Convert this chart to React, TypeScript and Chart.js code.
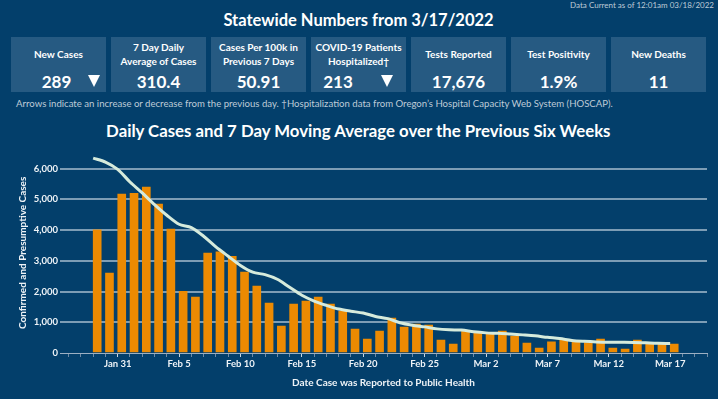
import React, { useEffect, useRef } from 'react';
import { Chart, registerables } from 'chart.js';

Chart.register(...registerables);

// ---------- data ----------
const DATES = [
  'Jan 29', 'Jan 30', 'Jan 31',
  'Feb 1', 'Feb 2', 'Feb 3', 'Feb 4', 'Feb 5', 'Feb 6', 'Feb 7', 'Feb 8', 'Feb 9', 'Feb 10',
  'Feb 11', 'Feb 12', 'Feb 13', 'Feb 14', 'Feb 15', 'Feb 16', 'Feb 17', 'Feb 18', 'Feb 19', 'Feb 20',
  'Feb 21', 'Feb 22', 'Feb 23', 'Feb 24', 'Feb 25', 'Feb 26', 'Feb 27', 'Feb 28',
  'Mar 1', 'Mar 2', 'Mar 3', 'Mar 4', 'Mar 5', 'Mar 6', 'Mar 7', 'Mar 8', 'Mar 9', 'Mar 10',
  'Mar 11', 'Mar 12', 'Mar 13', 'Mar 14', 'Mar 15', 'Mar 16', 'Mar 17',
];

const DAILY_CASES = [
  4010, 2600, 5170, 5200, 5400, 4850, 4030, 2010, 1820, 3250,
  3290, 3150, 2630, 2180, 1625, 880, 1590, 1690, 1820, 1590,
  1365, 780, 455, 715, 1140, 845, 940, 910, 420, 290,
  715, 650, 640, 715, 550, 325, 160, 360, 440, 390,
  340, 455, 160, 130, 420, 300, 290, 289,
];

const MOVING_AVG = [
  6345, 6215, 5978, 5567, 5209, 4830, 4483, 4191, 4083, 3801,
  3453, 3151, 2850, 2630, 2550, 2400, 2140, 1880, 1690, 1550,
  1430, 1360, 1300, 1190, 1120, 985, 905, 850, 785, 755,
  745, 690, 655, 640, 615, 590, 560, 510, 470, 410,
  380, 360, 350, 348, 345, 330, 315, 310,
];

const TICK_DATES = ['Jan 31', 'Feb 5', 'Feb 10', 'Feb 15', 'Feb 20', 'Feb 25', 'Mar 2', 'Mar 7', 'Mar 12', 'Mar 17'];
const Y_TICKS = [0, 1000, 2000, 3000, 4000, 5000, 6000];

const STAT_LABELS = [
  ['New Cases'],
  ['7 Day Daily', 'Average of Cases'],
  ['Cases Per 100k in', 'Previous 7 Days'],
  ['COVID-19 Patients', 'Hospitalized\u2020'],
  ['Tests Reported'],
  ['Test Positivity'],
  ['New Deaths'],
];
const STAT_VALUES = ['289', '310.4', '50.91', '213', '17,676', '1.9%', '11'];
const STAT_ARROWS = [true, false, false, true, false, false, false];

const HEADER_TITLE = 'Statewide Numbers from 3/17/2022';
const DATA_CURRENT = 'Data Current as of 12:01am 03/18/2022';
const FOOTNOTE = 'Arrows indicate an increase or decrease from the previous day. \u2020Hospitalization data from Oregon\u2019s Hospital Capacity Web System (HOSCAP).';
const CHART_TITLE = 'Daily Cases and 7 Day Moving Average over the Previous Six Weeks';
const Y_TITLE = 'Confirmed and Presumptive Cases';
const X_TITLE = 'Date Case was Reported to Public Health';

// ---------- style ----------
const FONT = 'Lato, "Noto Sans", sans-serif';
const BG = '#033f6b';
const BOX_BG = '#265a82';
const BAR_COLOR = '#ec8a02';
const LINE_COLOR = '#d6ebdc';
const TEXT = '#ffffff';
const TICK_TEXT = '#eef3f7';
const MUTED = '#bfcbd7';
const GRID = 'rgba(200,214,228,0.62)';
const AXIS = '#9db0c3';
const BAR_SHIFT = 0.33;

function Txt(props: { x: number; y: number; size: number; bold?: boolean; color?: string; children: React.ReactNode }) {
  const { x, y, size, bold, color, children } = props;
  return (
    <div
      style={{
        position: 'absolute',
        left: x,
        top: y,
        transform: 'translate(-50%,-50%)',
        fontSize: size,
        lineHeight: 1,
        fontWeight: bold ? 700 : 400,
        color: color || TEXT,
        whiteSpace: 'nowrap',
      }}
    >
      {children}
    </div>
  );
}

export default function App() {
  const canvasRef = useRef<HTMLCanvasElement | null>(null);

  useEffect(() => {
    document.body.style.margin = '0';
    const canvas = canvasRef.current;
    if (!canvas) return;
    const tickFont = { family: FONT, size: 9.5, weight: 'bold' as const };
    const titleFont = { family: FONT, size: 10, weight: 'bold' as const };

    const chart = new Chart(canvas, {
      type: 'line',
      data: {
        datasets: [
          {
            type: 'line',
            data: MOVING_AVG.map((v, i) => ({ x: i, y: v })),
            borderColor: LINE_COLOR,
            borderWidth: 3,
            pointRadius: 0,
            tension: 0.3,
            order: 0,
          } as any,
          {
            type: 'bar',
            data: DAILY_CASES.map((v, i) => ({ x: i + BAR_SHIFT, y: v })),
            backgroundColor: BAR_COLOR,
            barThickness: 8,
            order: 1,
          } as any,
        ],
      },
      options: {
        animation: false,
        responsive: false,
        maintainAspectRatio: false,
        layout: { padding: { top: 0, right: 11, bottom: 0, left: 0 } },
        plugins: {
          legend: { display: false },
          tooltip: { enabled: false },
          title: { display: false },
        },
        scales: {
          x: {
            type: 'linear',
            min: -2.7,
            max: 50,
            offset: false,
            grid: {
              offset: false,
              display: true,
              drawOnChartArea: false,
              drawTicks: true,
              tickLength: 4,
              tickColor: (c: any) => (c.tick && c.tick.label ? '#c9d5e0' : '#6f8aa5'),
            },
            border: { display: true, color: AXIS, width: 1 },
            afterBuildTicks: (s: any) => {
              const t = [];
              for (let v = Math.ceil(s.min); v <= Math.floor(s.max); v++) t.push({ value: v });
              s.ticks = t;
            },
            afterFit: (s: any) => {
              s.height = 46;
            },
            ticks: {
              autoSkip: false,
              maxRotation: 0,
              minRotation: 0,
              padding: 1,
              color: TICK_TEXT,
              font: tickFont,
              callback: (value: any) => {
                const i = Number(value);
                if (Number.isInteger(i) && i >= 0 && i < DATES.length && TICK_DATES.includes(DATES[i])) return DATES[i];
                return '';
              },
            },
            title: {
              display: true,
              text: X_TITLE,
              color: TICK_TEXT,
              font: titleFont,
              padding: { top: 0, bottom: 10 },
            },
          },
          y: {
            type: 'linear',
            position: 'left',
            min: 0,
            max: 6520,
            grid: {
              drawTicks: false,
              lineWidth: 2,
              color: (c: any) => (c.tick && c.tick.value === 0 ? 'rgba(0,0,0,0)' : GRID),
            },
            border: { display: false },
            afterBuildTicks: (s: any) => {
              s.ticks = Y_TICKS.map((v) => ({ value: v }));
            },
            afterFit: (s: any) => {
              s.width = 60;
            },
            ticks: {
              padding: 2,
              color: TICK_TEXT,
              font: tickFont,
              callback: (value: any) => Number(value).toLocaleString('en-US'),
            },
            title: {
              display: true,
              text: Y_TITLE,
              color: TICK_TEXT,
              font: titleFont,
              padding: { top: 17, bottom: 0 },
            },
          },
        },
      } as any,
    });
    return () => chart.destroy();
  }, []);

  return (
    <div
      style={{
        position: 'relative',
        width: 718,
        height: 399,
        background: BG,
        overflow: 'hidden',
        fontFamily: FONT,
      }}
    >
      <div
        style={{
          position: 'absolute',
          right: 4,
          top: 1,
          fontSize: 8,
          lineHeight: '8px',
          color: MUTED,
          whiteSpace: 'nowrap',
        }}
      >
        {DATA_CURRENT}
      </div>
      <Txt x={358.5} y={20} size={16.5} bold>
        {HEADER_TITLE}
      </Txt>

      {STAT_LABELS.map((lines, i) => {
        const left = 11 + i * 100;
        return (
          <div
            key={i}
            style={{ position: 'absolute', left, top: 37, width: 95, height: 55, background: BOX_BG }}
          >
            {lines.length === 1 ? (
              <Txt x={47.5} y={16.5} size={10} bold>
                {lines[0]}
              </Txt>
            ) : (
              lines.map((ln, j) => (
                <Txt key={j} x={47.5} y={10 + j * 13.5} size={10} bold>
                  {ln}
                </Txt>
              ))
            )}
            <Txt x={STAT_ARROWS[i] ? (i === 0 ? 45.5 : 27) : 47.5} y={43.5} size={17} bold>
              {STAT_VALUES[i]}
            </Txt>
            {STAT_ARROWS[i] ? (
              <div
                style={{
                  position: 'absolute',
                  left: (i === 0 ? 83 : 75.5) - 6,
                  top: 38,
                  width: 0,
                  height: 0,
                  borderLeft: '6px solid transparent',
                  borderRight: '6px solid transparent',
                  borderTop: '12px solid #ffffff',
                }}
              />
            ) : null}
          </div>
        );
      })}

      <div
        style={{
          position: 'absolute',
          left: 16,
          top: 104,
          transform: 'translateY(-50%)',
          fontSize: 9.6,
          lineHeight: 1,
          color: MUTED,
          whiteSpace: 'nowrap',
        }}
      >
        {FOOTNOTE}
      </div>

      <Txt x={358.3} y={131} size={16.8} bold>
        {CHART_TITLE}
      </Txt>

      <canvas
        ref={canvasRef}
        width={718}
        height={254}
        style={{ position: 'absolute', left: 0, top: 145, width: 718, height: 254, display: 'block' }}
      />
    </div>
  );
}
